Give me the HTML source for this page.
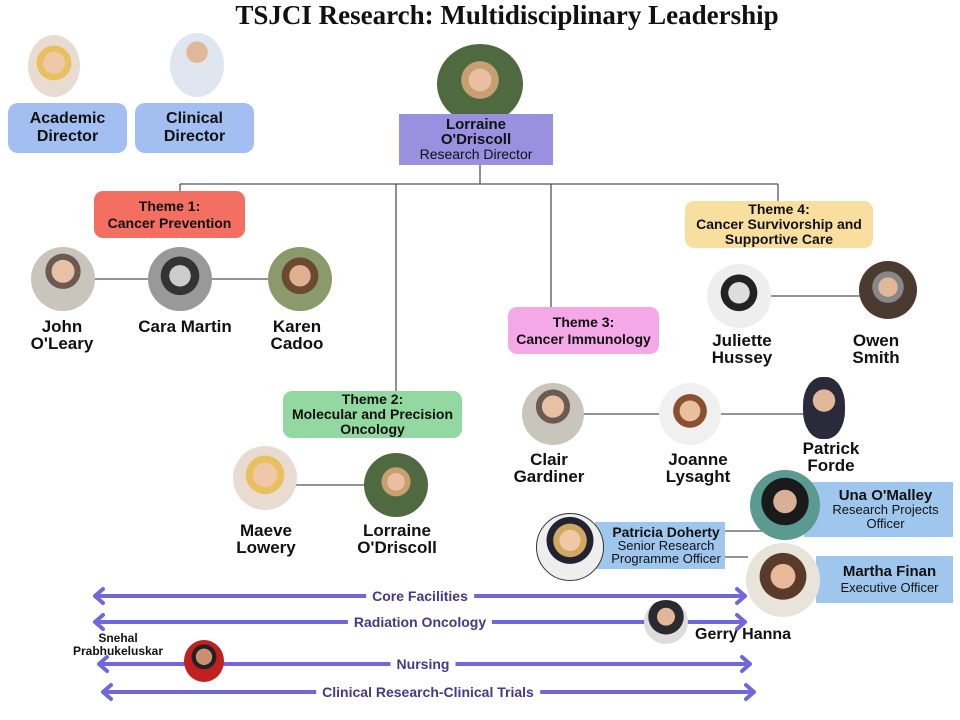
<!DOCTYPE html>
<html><head><meta charset="utf-8"><style>
body{margin:0;width:960px;height:720px;background:#fff;position:relative;overflow:hidden;font-family:"Liberation Sans",sans-serif;}
.a{position:absolute}
.box{position:absolute;display:flex;flex-direction:column;align-items:center;justify-content:center;text-align:center;font-weight:bold;color:#111;line-height:1.15}
.ph{position:absolute;border-radius:50%;background:radial-gradient(circle at 50% 38%,#e8c0a4 0 22%,#6b5a50 23% 34%,#c9c4bc 35%);}
.nm{position:absolute;text-align:center;font-weight:bold;font-size:17px;line-height:17px;color:#111;transform:translateX(-50%);white-space:nowrap}
.lab{position:absolute;font-weight:bold;font-size:14px;color:#3f3a8a;background:#fff;padding:0 6px;transform:translate(-50%,-50%);white-space:nowrap}
</style></head><body>
<div class="a" style="left:0;width:1014px;text-align:center;font-family:'Liberation Serif',serif;font-weight:bold;font-size:27px;color:#111;top:0px">TSJCI Research: Multidisciplinary Leadership</div>
<svg class="a" style="left:0;top:0" width="960" height="720">
<g stroke="#555" stroke-width="1.3" fill="none">
<path d="M480 165V184M180 184H778M180 184V191M396 184V391M551 184V307M778 184V201"/>
<path d="M63 279H300M739 296H888M553 414H824M265 485H396M725 531H762M725 557H748"/>
</g>
<g stroke="#7266dc" stroke-width="4" fill="none" stroke-linecap="round" stroke-linejoin="round">
<path d="M95 596H745M103 589L95 596L103 603M737 589L745 596L737 603"/>
<path d="M95 622H745M103 615L95 622L103 629M737 615L745 622L737 629"/>
<path d="M99 664H750M107 657L99 664L107 671M742 657L750 664L742 671"/>
<path d="M103 692H754M111 685L103 692L111 699M746 685L754 692L746 699"/>
</g>
</svg>
<div class="lab" style="left:420px;top:596px">Core Facilities</div>
<div class="lab" style="left:420px;top:622px">Radiation Oncology</div>
<div class="lab" style="left:423px;top:664px">Nursing</div>
<div class="lab" style="left:428px;top:692px">Clinical Research-Clinical Trials</div>

<div class="ph" style="left:28px;top:35px;width:52px;height:62px;background:radial-gradient(circle at 50% 45%,#f0c8a8 0 25%,#e8c060 26% 40%,#e8dcd0 41%)"></div>
<div class="ph" style="left:170px;top:33px;width:54px;height:64px;background:radial-gradient(circle at 50% 30%,#e0b898 0 20%,#dfe6f0 21%)"></div>
<div class="box" style="left:8px;top:103px;width:119px;height:50px;background:#a3bff2;border-radius:10px;font-size:16px">Academic<br>Director</div>
<div class="box" style="left:135px;top:103px;width:119px;height:50px;background:#a3bff2;border-radius:10px;font-size:16px">Clinical<br>Director</div>
<div class="ph" style="left:437px;top:44px;width:86px;height:80px;background:radial-gradient(circle at 50% 45%,#e8c0a0 0 18%,#c8a070 19% 30%,#4f6a40 31%)"></div>
<div class="box" style="left:399px;top:114px;width:154px;height:51px;background:#9b8fe0;font-size:15px;line-height:15px">Lorraine<br>O'Driscoll<span style="font-weight:normal;font-size:14px">Research Director</span></div>

<div class="box" style="left:94px;top:191px;width:151px;height:47px;background:#f26f62;border-radius:9px;font-size:14px">Theme 1:<br>Cancer Prevention</div>
<div class="ph" style="left:31px;top:247px;width:64px;height:64px"></div>
<div class="ph" style="left:148px;top:247px;width:64px;height:64px;background:radial-gradient(circle at 50% 45%,#ccc 0 22%,#333 23% 40%,#999 41%)"></div>
<div class="ph" style="left:268px;top:247px;width:64px;height:64px;background:radial-gradient(circle at 50% 45%,#e0b090 0 22%,#6a4a30 23% 38%,#8a9a6a 39%)"></div>
<div class="nm" style="left:62px;top:318px">John<br>O'Leary</div>
<div class="nm" style="left:185px;top:318px">Cara Martin</div>
<div class="nm" style="left:297px;top:318px">Karen<br>Cadoo</div>

<div class="box" style="left:685px;top:201px;width:188px;height:47px;background:#f8dfa0;border-radius:9px;font-size:14px;line-height:15px">Theme 4:<br>Cancer Survivorship and<br>Supportive Care</div>
<div class="ph" style="left:707px;top:264px;width:64px;height:64px;background:radial-gradient(circle at 50% 45%,#ddd 0 22%,#222 23% 38%,#eee 39%)"></div>
<div class="ph" style="left:859px;top:261px;width:58px;height:58px;background:radial-gradient(circle at 50% 45%,#e0b898 0 22%,#888 23% 36%,#4a3a30 37%)"></div>
<div class="nm" style="left:742px;top:332px">Juliette<br>Hussey</div>
<div class="nm" style="left:876px;top:332px">Owen<br>Smith</div>

<div class="box" style="left:508px;top:307px;width:151px;height:47px;background:#f4a8e8;border-radius:9px;font-size:14px">Theme 3:<br>Cancer Immunology</div>
<div class="ph" style="left:522px;top:383px;width:62px;height:62px"></div>
<div class="ph" style="left:659px;top:383px;width:62px;height:62px;background:radial-gradient(circle at 50% 45%,#e8c0a0 0 22%,#8a5030 23% 36%,#f0f0f0 37%)"></div>
<div class="ph" style="left:803px;top:377px;width:42px;height:62px;border-radius:45%;background:radial-gradient(circle at 50% 38%,#e0b898 0 25%,#2a2a3a 26%)"></div>
<div class="nm" style="left:549px;top:451px">Clair<br>Gardiner</div>
<div class="nm" style="left:698px;top:451px">Joanne<br>Lysaght</div>
<div class="nm" style="left:831px;top:440px">Patrick<br>Forde</div>

<div class="box" style="left:283px;top:391px;width:179px;height:47px;background:#93d8a0;border-radius:9px;font-size:14px;line-height:15px">Theme 2:<br>Molecular and Precision<br>Oncology</div>
<div class="ph" style="left:233px;top:446px;width:64px;height:64px;background:radial-gradient(circle at 50% 45%,#f0c8a8 0 25%,#e8c060 26% 40%,#e8dcd0 41%)"></div>
<div class="ph" style="left:364px;top:453px;width:64px;height:64px;background:radial-gradient(circle at 50% 45%,#e8c0a0 0 18%,#c8a070 19% 30%,#4f6a40 31%)"></div>
<div class="nm" style="left:266px;top:522px">Maeve<br>Lowery</div>
<div class="nm" style="left:397px;top:522px">Lorraine<br>O'Driscoll</div>

<div class="box" style="left:804px;top:482px;width:149px;height:55px;background:#9fc7ee;font-size:15px;line-height:14px;padding-left:14px;box-sizing:border-box">Una O'Malley<span style="font-weight:normal;font-size:13px">Research Projects<br>Officer</span></div>
<div class="ph" style="left:750px;top:470px;width:70px;height:70px;background:radial-gradient(circle at 50% 45%,#d8b098 0 22%,#1a1a1a 23% 45%,#5a9a90 46%)"></div>
<div class="box" style="left:595px;top:522px;width:130px;height:47px;background:#9fc7ee;font-size:14px;line-height:13px;padding-left:12px;box-sizing:border-box">Patricia Doherty<span style="font-weight:normal;font-size:13px">Senior Research<br>Programme Officer</span></div>
<div class="ph" style="left:536px;top:513px;width:68px;height:68px;border:1px solid #333;box-sizing:border-box;background:radial-gradient(circle at 50% 40%,#f0c8a8 0 20%,#d0a860 21% 32%,#223 33% 45%,#eee 46%)"></div>
<div class="box" style="left:816px;top:556px;width:137px;height:47px;background:#9fc7ee;font-size:15px;line-height:16px;padding-left:10px;box-sizing:border-box">Martha Finan<span style="font-weight:normal;font-size:13px">Executive Officer</span></div>
<div class="ph" style="left:746px;top:543px;width:74px;height:74px;background:radial-gradient(circle at 50% 45%,#e8b898 0 22%,#5a3a28 23% 42%,#e8e4da 43%)"></div>

<div class="ph" style="left:644px;top:600px;width:44px;height:44px;background:radial-gradient(circle at 50% 38%,#e0b898 0 25%,#2a2a30 26% 50%,#ddd 51%)"></div>
<div class="a" style="left:695px;top:626px;font-weight:bold;font-size:16px;color:#111">Gerry Hanna</div>
<div class="ph" style="left:184px;top:640px;width:40px;height:42px;background:radial-gradient(circle at 50% 40%,#c89070 0 25%,#222 26% 38%,#c02020 39%)"></div>
<div class="a" style="left:66px;top:632px;width:104px;text-align:center;font-weight:bold;font-size:12px;line-height:13px;color:#111">Snehal<br>Prabhukeluskar</div>
</body></html>
